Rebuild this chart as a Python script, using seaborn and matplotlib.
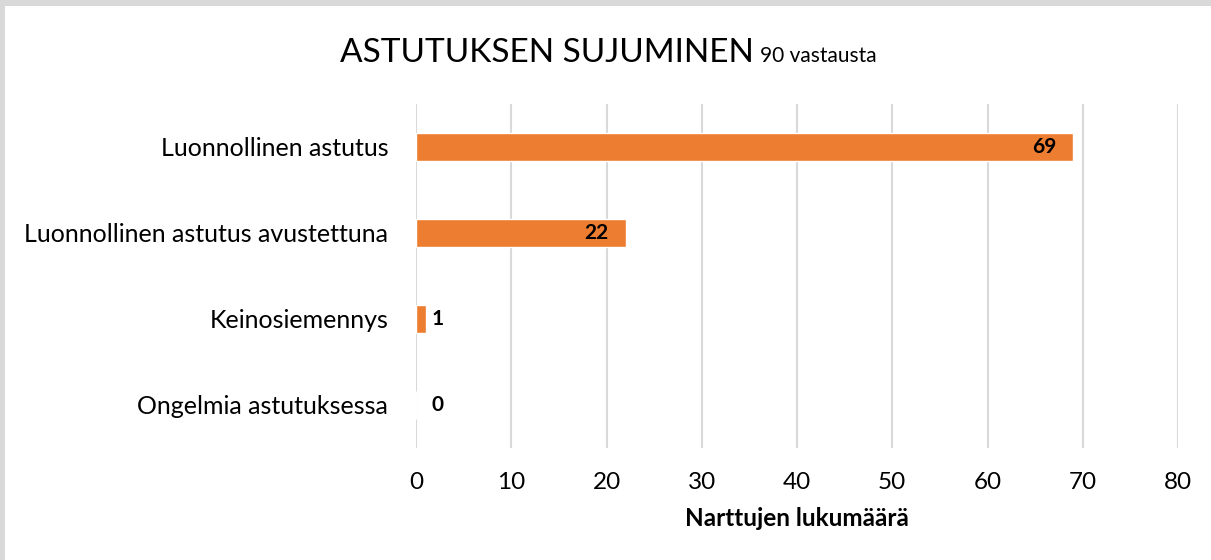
import seaborn as sns
import matplotlib.pyplot as plt
from matplotlib.patches import Rectangle

# Data
categories = ["Luonnollinen astutus", "Luonnollinen astutus avustettuna",
              "Keinosiemennys", "Ongelmia astutuksessa"]
values = [69, 22, 1, 0]
x_ticks = [0, 10, 20, 30, 40, 50, 60, 70, 80]

title_main = "ASTUTUKSEN SUJUMINEN"
title_sub = "90 vastausta"
x_label = "Narttujen lukumäärä"

sns.set_style("white")
plt.rcParams['font.family'] = ['Lato', 'DejaVu Sans']
plt.rcParams['text.color'] = 'black'
plt.rcParams['xtick.color'] = 'black'
plt.rcParams['ytick.color'] = 'black'
plt.rcParams['axes.labelcolor'] = 'black'

fig = plt.figure(figsize=(12.11, 5.60), dpi=100)
fig.patch.set_facecolor('white')
# grey strips on top and left edge
fig.patches.append(Rectangle((0, 1 - 6 / 560), 1, 6 / 560, transform=fig.transFigure,
                             facecolor='#d9d9d9', edgecolor='none', zorder=-5))
fig.patches.append(Rectangle((0, 0), 5 / 1211, 1, transform=fig.transFigure,
                             facecolor='#d9d9d9', edgecolor='none', zorder=-5))

ax = fig.add_axes([416 / 1211, 1 - 448 / 560, (1178 - 416) / 1211, (448 - 104) / 560])
ax.set_facecolor('none')

sns.barplot(x=values, y=categories, color='#ED7D31', width=0.33, orient='h',
            saturation=1, ax=ax, zorder=3)

ax.set_xlim(0, 80)
ax.set_xticks(x_ticks)
ax.set_ylim(3.5, -0.5)
ax.grid(axis='x', color='#d9d9d9', linewidth=1.5, zorder=0)
ax.grid(axis='y', visible=False)
ax.set_axisbelow(True)
for s in ax.spines.values():
    s.set_visible(False)
ax.tick_params(axis='x', length=0, pad=17, labelsize=17.5)
ax.tick_params(axis='y', length=0, pad=20, labelsize=18)
ax.set_xlabel(x_label, fontsize=17.5, fontweight='bold', labelpad=10)
ax.set_ylabel("")

# value labels
for i, v in enumerate(values):
    if v >= 10:
        ax.annotate(str(v), xy=(v, i), xytext=(-12, 0), textcoords='offset points',
                    ha='right', va='center', fontsize=15, fontweight='bold')
    else:
        ax.annotate(str(v), xy=(max(v, 1), i), xytext=(4, 0), textcoords='offset points',
                    ha='left', va='center', fontsize=15, fontweight='bold')

# title: big part + smaller part right after it, same baseline
base_y = 1 - 62 / 560
t = fig.text(340 / 1211, base_y, title_main, fontsize=24, ha='left', va='baseline')
fig.canvas.draw()
bb = t.get_window_extent(renderer=fig.canvas.get_renderer())
fig.text(bb.x1 / fig.bbox.width + 6 / 1211, base_y, title_sub, fontsize=15,
         ha='left', va='baseline')

fig.savefig('out.png', dpi=100, facecolor=fig.get_facecolor())
